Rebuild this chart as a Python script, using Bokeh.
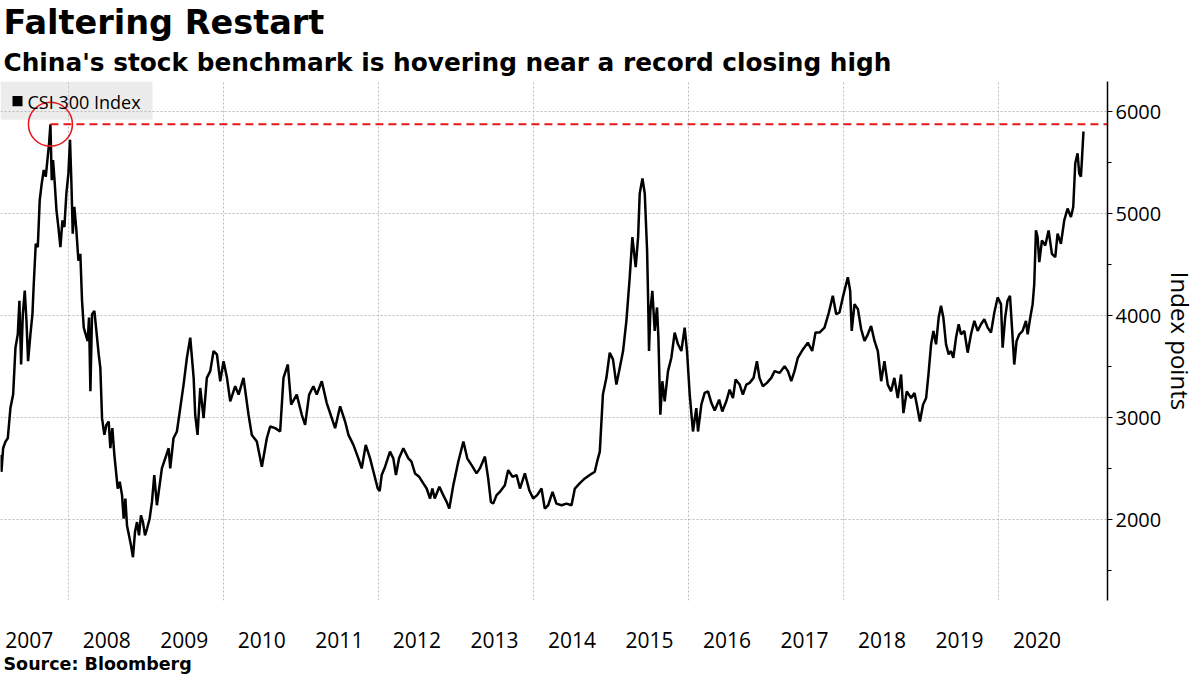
from bokeh.plotting import figure
from bokeh.models import (FixedTicker, Title, Range1d, CustomJSTickFormatter,
                          BoxAnnotation, Label)
from bokeh.embed import file_html
from bokeh.resources import INLINE

# ---- data (time as fractional year) ----
t = [
    2007.128, 2007.140, 2007.162, 2007.192, 2007.222, 2007.256, 2007.291, 2007.321, 2007.351, 2007.372,
    2007.394, 2007.416, 2007.441, 2007.463, 2007.484, 2007.514, 2007.540, 2007.557, 2007.583, 2007.609,
    2007.634, 2007.660, 2007.686, 2007.712, 2007.729, 2007.755, 2007.772, 2007.789, 2007.806, 2007.828,
    2007.850, 2007.875, 2007.901, 2007.927, 2007.952, 2007.978, 2008.004, 2008.025, 2008.043, 2008.060,
    2008.081, 2008.107, 2008.133, 2008.158, 2008.180, 2008.202, 2008.227, 2008.253, 2008.270, 2008.288,
    2008.309, 2008.339, 2008.365, 2008.395, 2008.416, 2008.438, 2008.468, 2008.494, 2008.524, 2008.545,
    2008.571, 2008.597, 2008.623, 2008.640, 2008.666, 2008.696, 2008.717, 2008.739, 2008.760, 2008.786,
    2008.812, 2008.837, 2008.863, 2008.889, 2008.915, 2008.940, 2008.966, 2008.992, 2009.018, 2009.052,
    2009.082, 2009.112, 2009.146, 2009.210, 2009.297, 2009.318, 2009.360, 2009.404, 2009.447, 2009.490,
    2009.533, 2009.576, 2009.620, 2009.640, 2009.670, 2009.705, 2009.748, 2009.790, 2009.834, 2009.877,
    2009.920, 2009.963, 2010.006, 2010.050, 2010.092, 2010.156, 2010.200, 2010.263, 2010.328, 2010.370,
    2010.435, 2010.500, 2010.564, 2010.607, 2010.672, 2010.736, 2010.779, 2010.835, 2010.878, 2010.950,
    2011.015, 2011.058, 2011.110, 2011.165, 2011.208, 2011.273, 2011.337, 2011.402, 2011.445, 2011.510,
    2011.574, 2011.617, 2011.681, 2011.745, 2011.788, 2011.840, 2011.896, 2011.940, 2011.995, 2012.020,
    2012.046, 2012.090, 2012.153, 2012.196, 2012.230, 2012.270, 2012.325, 2012.390, 2012.430, 2012.476,
    2012.530, 2012.583, 2012.626, 2012.670, 2012.700, 2012.730, 2012.790, 2012.840, 2012.884, 2012.918,
    2012.970, 2013.034, 2013.100, 2013.150, 2013.206, 2013.270, 2013.313, 2013.378, 2013.420, 2013.455,
    2013.485, 2013.528, 2013.570, 2013.635, 2013.678, 2013.734, 2013.786, 2013.830, 2013.893, 2013.950,
    2014.000, 2014.052, 2014.108, 2014.150, 2014.194, 2014.250, 2014.300, 2014.366, 2014.430, 2014.495,
    2014.538, 2014.600, 2014.667, 2014.730, 2014.795, 2014.825, 2014.860, 2014.900, 2014.945, 2014.988,
    2015.030, 2015.074, 2015.126, 2015.160, 2015.203, 2015.246, 2015.280, 2015.323, 2015.354, 2015.375,
    2015.410, 2015.440, 2015.470, 2015.482, 2015.495, 2015.512, 2015.538, 2015.568, 2015.598, 2015.616,
    2015.641, 2015.667, 2015.697, 2015.740, 2015.783, 2015.826, 2015.869, 2015.912, 2015.955, 2015.985,
    2016.020, 2016.062, 2016.105, 2016.127, 2016.170, 2016.213, 2016.256, 2016.300, 2016.342, 2016.400,
    2016.440, 2016.492, 2016.535, 2016.578, 2016.612, 2016.664, 2016.706, 2016.750, 2016.793, 2016.844,
    2016.887, 2016.920, 2016.964, 2017.016, 2017.072, 2017.115, 2017.180, 2017.244, 2017.287, 2017.330,
    2017.372, 2017.415, 2017.480, 2017.544, 2017.600, 2017.643, 2017.694, 2017.759, 2017.815, 2017.866,
    2017.910, 2017.952, 2017.995, 2018.060, 2018.090, 2018.110, 2018.146, 2018.190, 2018.232, 2018.275,
    2018.318, 2018.360, 2018.404, 2018.447, 2018.490, 2018.532, 2018.575, 2018.618, 2018.660, 2018.704,
    2018.747, 2018.777, 2018.820, 2018.876, 2018.920, 2018.950, 2018.990, 2019.030, 2019.070, 2019.100,
    2019.134, 2019.164, 2019.198, 2019.232, 2019.262, 2019.292, 2019.327, 2019.361, 2019.391, 2019.421,
    2019.456, 2019.490, 2019.520, 2019.563, 2019.606, 2019.649, 2019.692, 2019.735, 2019.778, 2019.821,
    2019.864, 2019.907, 2019.950, 2019.993, 2020.036, 2020.057, 2020.090, 2020.120, 2020.152, 2020.186,
    2020.207, 2020.237, 2020.272, 2020.315, 2020.358, 2020.380, 2020.410, 2020.444, 2020.465, 2020.487,
    2020.508, 2020.530, 2020.564, 2020.607, 2020.650, 2020.693, 2020.736, 2020.766, 2020.809, 2020.852,
    2020.895, 2020.938, 2020.968, 2020.994, 2021.024, 2021.045, 2021.067, 2021.080, 2021.100,
]
csi300 = [
    2634, 2469, 2700, 2765, 2798, 3094, 3226, 3686, 3817, 4146,
    3521, 4014, 4245, 3949, 3554, 3817, 4014, 4310, 4705, 4672,
    5132, 5296, 5428, 5362, 5493, 5691, 5877, 5329, 5526, 5296,
    5033, 4869, 4672, 4935, 4869, 5198, 5395, 5724, 5296, 4803,
    5066, 4836, 4540, 4606, 4146, 3883, 3817, 3751, 3981, 3259,
    4014, 4047, 3850, 3620, 3488, 2995, 2831, 2929, 2962, 2700,
    2897, 2634, 2437, 2305, 2371, 2240, 2009, 2207, 1943, 1845,
    1746, 1631, 1878, 1976, 1845, 2042, 1976, 1845, 1910, 2009,
    2174, 2437, 2141, 2502, 2700, 2502, 2798, 2864, 3094, 3324,
    3587, 3784, 3390, 3028, 2831, 3291, 2995, 3390, 3456, 3653,
    3620, 3357, 3554, 3390, 3160, 3308, 3226, 3390, 3028, 2831,
    2765, 2519, 2798, 2913, 2897, 2864, 3390, 3521, 3127, 3226,
    3028, 2930, 3226, 3308, 3226, 3357, 3143, 2995, 2897, 3111,
    2962, 2831, 2733, 2601, 2502, 2733, 2601, 2470, 2305, 2280,
    2437, 2519, 2667, 2601, 2437, 2601, 2700, 2601, 2568, 2453,
    2420, 2355, 2305, 2207, 2305, 2207, 2322, 2240, 2174, 2108,
    2338, 2568, 2766, 2601, 2535, 2453, 2502, 2618, 2404, 2174,
    2157, 2240, 2272, 2338, 2486, 2420, 2437, 2305, 2453, 2289,
    2207, 2240, 2305, 2108, 2141, 2272, 2157, 2141, 2157, 2141,
    2305, 2355, 2404, 2437, 2470, 2568, 2667, 3226, 3390, 3636,
    3571, 3324, 3521, 3653, 3949, 4376, 4770, 4475, 4770, 5198,
    5346, 5198, 4639, 4212, 3653, 4047, 4244, 3850, 4080, 3784,
    3028, 3357, 3160, 3456, 3587, 3834, 3719, 3653, 3883, 3653,
    3226, 2864, 3094, 2864, 3127, 3242, 3258, 3143, 3070, 3176,
    3061, 3160, 3275, 3193, 3374, 3324, 3226, 3324, 3341, 3390,
    3554, 3390, 3308, 3341, 3390, 3456, 3439, 3505, 3456, 3357,
    3456, 3587, 3669, 3735, 3653, 3834, 3834, 3883, 4031, 4195,
    4014, 4031, 4179, 4376, 4244, 3850, 4113, 4064, 3867, 3752,
    3817, 3899, 3752, 3653, 3357, 3554, 3324, 3258, 3390, 3193,
    3423, 3045, 3258, 3193, 3242, 3127, 2963, 3127, 3193, 3423,
    3719, 3850, 3719, 3982, 4097, 3982, 3719, 3620, 3653, 3587,
    3785, 3916, 3817, 3850, 3637, 3817, 3949, 3850, 3916, 3965,
    3883, 3834, 4031, 4179, 4113, 3686, 3982, 4146, 4195, 3785,
    3521, 3752, 3817, 3850, 3949, 3817, 3965, 4113, 4310, 4836,
    4771, 4524, 4738, 4688, 4836, 4606, 4573, 4804, 4705, 4935,
    5050, 4968, 5066, 5494, 5592, 5395, 5362, 5527, 5806,
]
year_labels = list(range(2007, 2021))
grid_years = [2008, 2010, 2012, 2014, 2016, 2018, 2020]
y_ticks = [2000, 3000, 4000, 5000, 6000]
y_minor_ticks = [1500, 2500, 3500, 4500, 5500]
series_name = "CSI 300 Index"

X_START, X_END = 2007.128, 2021.41
Y_START, Y_END = 1207, 6296
FRAME_H = 516                      # plot-area height in px (for legend placement)
U = (Y_END - Y_START) / FRAME_H     # data units per pixel vertically

p = figure(width=1200, height=675, output_backend="svg", toolbar_location=None,
           x_range=Range1d(X_START, X_END), y_range=Range1d(Y_START, Y_END),
           y_axis_location="right", min_border_left=0, min_border_right=0,
           min_border_top=0, min_border_bottom=0)
p.outline_line_color = None
p.background_fill_color = "white"
p.border_fill_color = "white"

# titles
p.title.text = "Faltering Restart"
p.title.text_font = "DejaVu Sans"
p.title.text_font_size = "33.5px"
p.title.text_font_style = "bold"
p.title.align = "left"
p.title.offset = 3
p.title.standoff = 0
p.title.text_color = "black"
sub = Title(text="China's stock benchmark is hovering near a record closing high",
            text_font="DejaVu Sans", text_font_size="24.8px", text_font_style="bold",
            align="left", offset=3, standoff=9, text_color="black")
p.add_layout(sub, "above")

# legend background (drawn under the grid, as in the reference)
leg_box = BoxAnnotation(left=0, right=152, left_units="screen", right_units="screen",
                        top=Y_END, bottom=Y_END - 38 * U,
                        fill_color="#ececec", fill_alpha=1, line_color=None, level="image")
p.add_layout(leg_box)

# grids
p.xgrid.ticker = FixedTicker(ticks=grid_years)
p.ygrid.ticker = FixedTicker(ticks=y_ticks)
p.grid.grid_line_color = "#bdbdbd"
p.grid.grid_line_dash = "2 2"
p.grid.grid_line_width = 1

# x axis
p.xaxis.ticker = FixedTicker(ticks=[y + 0.5 for y in year_labels])
p.xaxis.formatter = CustomJSTickFormatter(code="return String(Math.floor(tick));")
p.xaxis.axis_line_color = None
p.xaxis.major_tick_line_color = None
p.xaxis.minor_tick_line_color = None
p.xaxis.major_label_text_font = "Open Sans"
p.xaxis.major_label_text_font_size = "21px"
p.xaxis.major_label_text_color = "black"
p.xaxis.major_label_standoff = 25

# y axis
p.yaxis.ticker = FixedTicker(ticks=y_ticks, minor_ticks=y_minor_ticks)
p.yaxis.axis_line_color = "black"
p.yaxis.axis_line_width = 1.5
p.yaxis.major_tick_line_color = "black"
p.yaxis.major_tick_out = 5
p.yaxis.major_tick_in = 0
p.yaxis.minor_tick_line_color = "black"
p.yaxis.minor_tick_out = 4
p.yaxis.minor_tick_in = 0
p.yaxis.major_label_text_font = "Open Sans"
p.yaxis.major_label_text_font_size = "20px"
p.yaxis.major_label_text_color = "black"
p.yaxis.major_label_standoff = 3
p.yaxis.axis_label = "Index points"
p.yaxis.axis_label_text_font = "Open Sans"
p.yaxis.axis_label_text_font_size = "24px"
p.yaxis.axis_label_text_font_style = "normal"
p.yaxis.axis_label_text_color = "black"
p.yaxis.axis_label_standoff = 0

# source note
src = Title(text="Source: Bloomberg", text_font="DejaVu Sans", text_font_size="17.5px",
            text_font_style="bold", align="left", offset=3, standoff=3, text_color="black")
p.add_layout(src, "below")

# series
p.line(t, csi300, line_color="black", line_width=2.5)

# record-high marker (derived from the data)
i_max = max(range(len(csi300)), key=lambda i: csi300[i])
peak_t, peak_v = t[i_max], csi300[i_max]
p.segment(x0=[peak_t], y0=[peak_v], x1=[X_END], y1=[peak_v],
          line_color="#e8161b", line_width=2, line_dash="8 5")

# legend swatch and label
swatch = BoxAnnotation(left=12, right=22, left_units="screen", right_units="screen",
                       top=Y_END - 14.5 * U, bottom=Y_END - 24.5 * U,
                       fill_color="black", fill_alpha=1, line_color=None, level="image")
p.add_layout(swatch)
leg_label = Label(x=27, x_units="screen", y=Y_END - 20.5 * U, text=series_name,
                  text_font="Open Sans", text_font_size="18px", text_color="black",
                  text_baseline="middle", text_align="left")
p.add_layout(leg_label)

p.scatter([peak_t], [peak_v], marker="circle", size=44, fill_color=None,
          line_color="#e8161b", line_width=1.5)

open("out.html", "w").write(file_html(p, INLINE))
